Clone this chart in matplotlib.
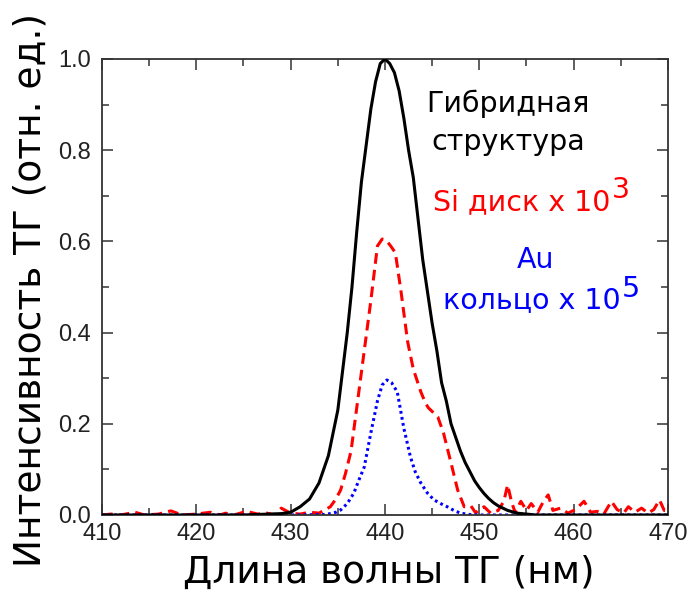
import numpy as np
import matplotlib.pyplot as plt
from matplotlib.ticker import MultipleLocator

# гибридная структура
x_hyb = [410, 425, 429, 430, 431, 432, 433, 434, 435, 436, 436.5, 437, 437.5, 438, 438.5,
         439, 439.5, 440, 440.5, 441, 441.5, 442, 442.5, 443, 443.5, 444, 444.5, 445,
         445.5, 446, 446.5, 447, 447.5, 448, 448.5, 449, 449.5, 450, 450.5, 451, 451.5,
         452, 453, 454, 455, 456, 470]
y_hyb = [0.0, 0.0, 0.003, 0.006, 0.018, 0.035, 0.07, 0.13, 0.23, 0.40, 0.50, 0.62, 0.73,
         0.81, 0.89, 0.95, 0.99, 1.0, 0.99, 0.97, 0.93, 0.87, 0.80, 0.74, 0.65, 0.56, 0.49,
         0.42, 0.36, 0.29, 0.25, 0.20, 0.17, 0.14, 0.115, 0.095, 0.075, 0.06, 0.047, 0.036,
         0.027, 0.02, 0.01, 0.004, 0.002, 0.0, 0.0]

# Si диск x 10^3
x_si = [410, 411, 412, 413.5, 414.5, 416, 417.3, 418.5, 420, 421.5, 422.5, 423.1, 424,
        425.3, 426.5, 427.5, 428.3, 429, 430, 431, 432, 433, 433.7, 434.2, 434.8, 435.3,
        435.8, 436.4, 437.1, 437.8, 438.5, 439.2, 439.7, 440.1, 440.6, 441.1, 441.7,
        442.4, 443.0, 443.8, 444.3, 444.6, 445.1, 445.6, 446.2, 447.0, 447.7, 448.4,
        449.1, 449.6, 450.5, 451.2, 452, 452.6, 453.0, 453.4, 453.8, 454.4, 455.0, 455.5,
        456.2, 456.8, 457.3, 457.8, 458.6, 459.4, 460.2, 461.1, 461.8, 462.5, 463.2,
        464.0, 464.6, 465.3, 465.8, 466.5, 467.2, 467.9, 468.5, 469.1, 469.6, 470]
y_si = [0.0, 0.002, 0.0, 0.006, 0.0, 0.002, 0.009, 0.0, 0.002, 0.006, 0.0, 0.004, 0.0,
        0.008, 0.002, 0.004, 0.0, 0.015, 0.004, 0.002, 0.006, 0.004, 0.012, 0.018, 0.035,
        0.055, 0.09, 0.14, 0.25, 0.36, 0.47, 0.59, 0.605, 0.603, 0.59, 0.575, 0.49, 0.38,
        0.32, 0.27, 0.245, 0.235, 0.225, 0.215, 0.18, 0.114, 0.055, 0.018, 0.02, 0.005,
        0.018, 0.004, 0.01, 0.03, 0.066, 0.03, 0.005, 0.03, 0.01, 0.025, 0.006, 0.03,
        0.044, 0.01, 0.015, 0.004, 0.012, 0.03, 0.006, 0.008, 0.002, 0.03, 0.012, 0.004,
        0.018, 0.006, 0.015, 0.004, 0.012, 0.033, 0.01, 0.01]

# Au кольцо x 10^5
x_au = [410, 430, 433.5, 434.2, 434.8, 435.3, 436.0, 436.7, 437.2, 437.8, 438.5, 439.2,
        439.7, 440.2, 440.7, 441.3, 442.0, 442.7, 443.2, 443.8, 444.5, 445.2, 446.0,
        446.6, 447.3, 448.0, 449, 450, 470]
y_au = [0.0, 0.0, 0.001, 0.003, 0.006, 0.011, 0.025, 0.048, 0.075, 0.105, 0.18, 0.25,
        0.285, 0.296, 0.29, 0.27, 0.19, 0.127, 0.095, 0.07, 0.048, 0.033, 0.024, 0.018,
        0.01, 0.004, 0.001, 0.0, 0.0]

fig = plt.figure(figsize=(6.91, 5.92), dpi=100)
ax = fig.add_axes([0.1476, 0.1301, 0.8191, 0.7703])

ax.plot(x_hyb, y_hyb, color='k', lw=2.2, zorder=3)
ax.plot(x_si, y_si, color='#ff0000', lw=2.2, ls=(0, (3.5, 2)), zorder=2)
ax.plot(x_au, y_au, color='#0000ff', lw=2.2, ls=(0, (0.9, 1.1)), zorder=2)

ax.set_xlim(410, 470)
ax.set_ylim(0, 1.0)
ax.xaxis.set_major_locator(MultipleLocator(10))
ax.xaxis.set_minor_locator(MultipleLocator(5))
ax.yaxis.set_major_locator(MultipleLocator(0.2))
ax.yaxis.set_minor_locator(MultipleLocator(0.1))
ax.yaxis.set_major_formatter(plt.FuncFormatter(lambda v, p: '%.1f' % v))

for s in ax.spines.values():
    s.set_color('#333333')
    s.set_linewidth(1.3)
ax.tick_params(which='both', direction='in', top=True, right=True, color='#333333',
               width=1.1, labelcolor='#222222')
ax.tick_params(which='major', length=8)
ax.tick_params(which='minor', length=5)
ax.tick_params(axis='x', which='major', pad=6)
ax.tick_params(axis='y', which='major', pad=8)
for lab in ax.get_xticklabels() + ax.get_yticklabels():
    lab.set_fontfamily('Liberation Sans')
    lab.set_fontsize(17)

ax.set_xlabel('Длина волны ТГ (нм)', fontsize=27, family='DejaVu Sans')
ax.set_ylabel('Интенсивность ТГ (отн. ед.)', fontsize=27, family='DejaVu Sans')
ax.xaxis.label.set_va('baseline')
ax.xaxis.set_label_coords(0.507, -0.149)
ax.yaxis.set_label_coords(-0.095, 0.493)

fs = 20.5
ax.text(453.05, 0.884, 'Гибридная', ha='center', va='baseline', fontsize=fs, color='k')
ax.text(453.05, 0.800, 'структура', ha='center', va='baseline', fontsize=fs, color='k')
ax.text(463.87, 0.669, 'Si диск x 10', ha='right', va='baseline', fontsize=fs,
        color='#ff0000')
ax.text(464.08, 0.695, '3', ha='left', va='baseline', fontsize=fs, color='#ff0000')
ax.text(455.97, 0.542, 'Au', ha='center', va='baseline', fontsize=fs, color='#0000ff')
ax.text(464.93, 0.454, 'кольцо x 10', ha='right', va='baseline', fontsize=fs,
        color='#0000ff')
ax.text(465.14, 0.478, '5', ha='left', va='baseline', fontsize=fs, color='#0000ff')

plt.savefig('out.png', dpi=100)
plt.close()
